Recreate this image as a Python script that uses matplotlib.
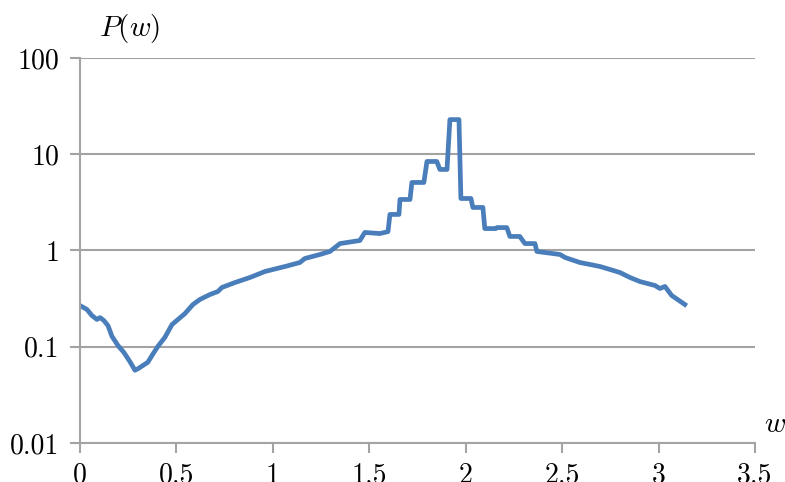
import matplotlib.pyplot as plt
import numpy as np

#Style: Computer Modern look
plt.rcParams['font.family'] = 'cmr10'
plt.rcParams['mathtext.fontset'] = 'cm'
plt.rcParams['axes.unicode_minus'] = False

#Data (step-like spectrum)
w = [0.000, 0.036, 0.062, 0.088, 0.104, 0.124, 0.145, 0.166, 0.197, 0.228,
     0.259, 0.285, 0.300, 0.327, 0.352, 0.373, 0.404, 0.440, 0.477, 0.508,
     0.544, 0.586, 0.622, 0.674, 0.715, 0.736, 0.804, 0.881, 0.959, 1.063,
     1.140, 1.166, 1.244, 1.296, 1.348, 1.451, 1.477, 1.555, 1.597, 1.607,
     1.654, 1.659, 1.711, 1.721, 1.783, 1.799, 1.850, 1.866, 1.903, 1.918,
     1.965, 1.975, 2.027, 2.037, 2.089, 2.099, 2.156, 2.162, 2.213, 2.229,
     2.280, 2.307, 2.359, 2.369, 2.489, 2.515, 2.592, 2.644, 2.696, 2.748,
     2.800, 2.852, 2.903, 2.981, 3.007, 3.033, 3.068, 3.136]
P = [0.268, 0.244, 0.211, 0.192, 0.201, 0.187, 0.166, 0.128, 0.103, 0.087,
     0.070, 0.057, 0.059, 0.064, 0.069, 0.081, 0.101, 0.125, 0.170, 0.192,
     0.221, 0.275, 0.310, 0.349, 0.375, 0.413, 0.465, 0.524, 0.605, 0.682,
     0.750, 0.826, 0.909, 0.977, 1.18, 1.27, 1.54, 1.50, 1.57, 2.37,
     2.37, 3.39, 3.39, 5.09, 5.09, 8.41, 8.41, 6.95, 6.95, 22.9,
     22.9, 3.47, 3.47, 2.80, 2.80, 1.69, 1.69, 1.73, 1.73, 1.40,
     1.40, 1.18, 1.18, 0.977, 0.909, 0.846, 0.750, 0.716, 0.682, 0.635,
     0.590, 0.524, 0.476, 0.433, 0.403, 0.423, 0.341, 0.275]

x_ticks = [0, 0.5, 1, 1.5, 2, 2.5, 3, 3.5]
x_labels = ['0', '0.5', '1', '1.5', '2', '2.5', '3', '3.5']
y_ticks = [0.01, 0.1, 1, 10, 100]
y_labels = ['0.01', '0.1', '1', '10', '100']

grey = '#a3a3a3'

fig = plt.figure(figsize=(7.85, 4.82), dpi=100)
ax = fig.add_axes([0.1019, 0.0809, 0.8599, 0.7988])

ax.plot(w, P, color='#4a7ebb', linewidth=3.4, solid_joinstyle='round')

ax.set_yscale('log')
ax.set_xlim(0, 3.5)
ax.set_ylim(0.01, 100)
ax.set_xticks(x_ticks, x_labels)
ax.set_yticks(y_ticks, y_labels)
ax.minorticks_off()

ax.grid(axis='y', color=grey, linewidth=1.5)
ax.set_axisbelow(True)
for side in ['top', 'right']:
    ax.spines[side].set_visible(False)
for side in ['left', 'bottom']:
    ax.spines[side].set_color(grey)
    ax.spines[side].set_linewidth(1.5)
ax.tick_params(axis='both', direction='out', length=7, width=1.5,
               color=grey, labelsize=20, labelcolor='black')
ax.tick_params(axis='y', pad=8)
ax.tick_params(axis='x', pad=7)

fig.text(0.165, 0.94, r'$P(w)$', fontsize=21, ha='center', va='center')
fig.text(0.987, 0.118, r'$w$', fontsize=21, ha='center', va='center')

plt.savefig('out.png', dpi=100)
